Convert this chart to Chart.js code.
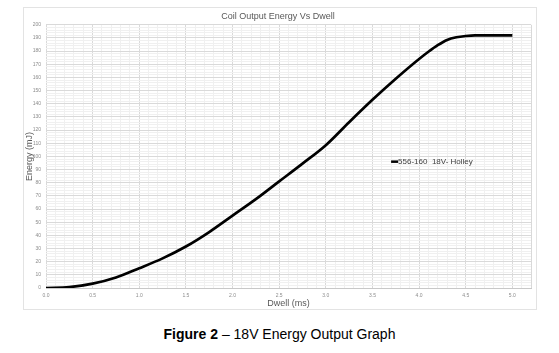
<!DOCTYPE html>
<html>
<head>
<meta charset="utf-8">
<script src="https://cdn.jsdelivr.net/npm/chart.js@4"></script>
<style>
  body { margin: 0; background: #fff; width: 559px; height: 353px; position: relative; overflow: hidden; }
  #box { position: absolute; left: 23px; top: 7px; width: 514px; height: 303px; border: 1px solid #e3e3e3; box-sizing: border-box; }
  #caption { position: absolute; left: 0; width: 559px; top: 326px; text-align: center;
    font-family: "Liberation Sans", Arial, sans-serif; font-size: 14px; color: #000; }
</style>
</head>
<body>
<div id="box"><canvas id="chart"></canvas></div>
<div id="caption"><b>Figure 2</b> – 18V Energy Output Graph</div>
<script>
const dwell = [0, 0.25, 0.5, 0.75, 1.0, 1.25, 1.5, 1.75, 2.0, 2.25, 2.5, 2.75, 3.0, 3.25, 3.5, 3.75, 4.0, 4.1, 4.2, 4.3, 4.4, 4.5, 4.6, 4.75, 5.0];
const energy = [0, 0.7, 3.3, 8, 15, 22.5, 31.5, 42.5, 55, 67.5, 81, 94.5, 108.5, 126, 143, 159, 174, 179.5, 184.5, 188.5, 190.5, 191.5, 192, 192, 192];
const seriesLabel = '556-160  18V- Holley';
const xTicks = [0, 0.5, 1, 1.5, 2, 2.5, 3, 3.5, 4, 4.5, 5];
const yTicks = [0, 10, 20, 30, 40, 50, 60, 70, 80, 90, 100, 110, 120, 130, 140, 150, 160, 170, 180, 190, 200];

const FONT = '"Liberation Sans", Arial, sans-serif';
const canvas = document.getElementById('chart');
canvas.width = 512; canvas.height = 301;

// minor grid steps
function stepTicks(max, step) {
  const out = [];
  for (let i = 0; i * step <= max + 1e-9; i++) out.push({ value: +(i * step).toFixed(4) });
  return out;
}
function isMajor(v, list) {
  return list.some(t => Math.abs(t - v) < 1e-6);
}

// legend drawn inside the plot area
const innerLegend = {
  id: 'innerLegend',
  afterDraw(chart) {
    const { ctx, scales: { x, y } } = chart;
    const px = x.getPixelForValue(3.70);
    const py = y.getPixelForValue(96);
    ctx.save();
    ctx.strokeStyle = '#000';
    ctx.lineWidth = 2.5;
    ctx.beginPath();
    ctx.moveTo(px, py);
    ctx.lineTo(px + 7, py);
    ctx.stroke();
    ctx.fillStyle = '#404040';
    ctx.font = '8px ' + FONT;
    ctx.textBaseline = 'middle';
    ctx.fillText(chart.data.datasets[0].label, px + 7, py);
    ctx.restore();
  }
};

new Chart(canvas, {
  type: 'line',
  data: {
    datasets: [{
      label: seriesLabel,
      data: dwell.map((d, i) => ({ x: d, y: energy[i] })),
      borderColor: '#000',
      borderWidth: 2.7,
      pointRadius: 0,
      cubicInterpolationMode: 'monotone',
      fill: false
    }]
  },
  options: {
    responsive: false,
    animation: false,
    layout: { padding: { left: 0, right: 4, top: 0, bottom: 0 } },
    plugins: {
      legend: { display: false },
      tooltip: { enabled: false },
      title: {
        display: true,
        text: 'Coil Output Energy Vs Dwell',
        color: '#595959',
        font: { family: FONT, size: 9, weight: 'normal' },
        padding: { top: 3, bottom: 3 }
      }
    },
    scales: {
      x: {
        type: 'linear',
        min: 0,
        max: 5.2,
        afterBuildTicks: s => { s.ticks = stepTicks(5.2, 0.1); },
        afterFit: s => { s.height = 21; },
        ticks: {
          autoSkip: false,
          maxRotation: 0,
          padding: 5,
          color: '#8c8c8c',
          font: { family: FONT, size: 5 },
          callback: v => isMajor(v, xTicks) ? v.toFixed(1) : ''
        },
        grid: {
          drawTicks: false,
          color: c => isMajor(c.tick.value, xTicks) || Math.abs(c.tick.value - 5.2) < 1e-6 ? '#d9d9d9' : '#f0f0f0',
          lineWidth: 1
        },
        border: { color: '#c8c8c8' },
        title: {
          display: true,
          text: 'Dwell (ms)',
          color: '#595959',
          font: { family: FONT, size: 9 },
          padding: 0
        }
      },
      y: {
        min: 0,
        max: 200,
        afterBuildTicks: s => { s.ticks = stepTicks(200, 2); },
        afterFit: s => { s.width = 22; },
        ticks: {
          autoSkip: false,
          padding: 5,
          color: '#8c8c8c',
          font: { family: FONT, size: 5 },
          callback: v => isMajor(v, yTicks) ? String(v) : ''
        },
        grid: {
          drawTicks: false,
          color: c => isMajor(c.tick.value, yTicks) ? '#d9d9d9' : '#f0f0f0',
          lineWidth: 1
        },
        border: { display: false },
        title: {
          display: true,
          text: 'Energy (mJ)',
          color: '#595959',
          font: { family: FONT, size: 9 },
          padding: 0
        }
      }
    }
  },
  plugins: [innerLegend]
});
</script>
</body>
</html>
